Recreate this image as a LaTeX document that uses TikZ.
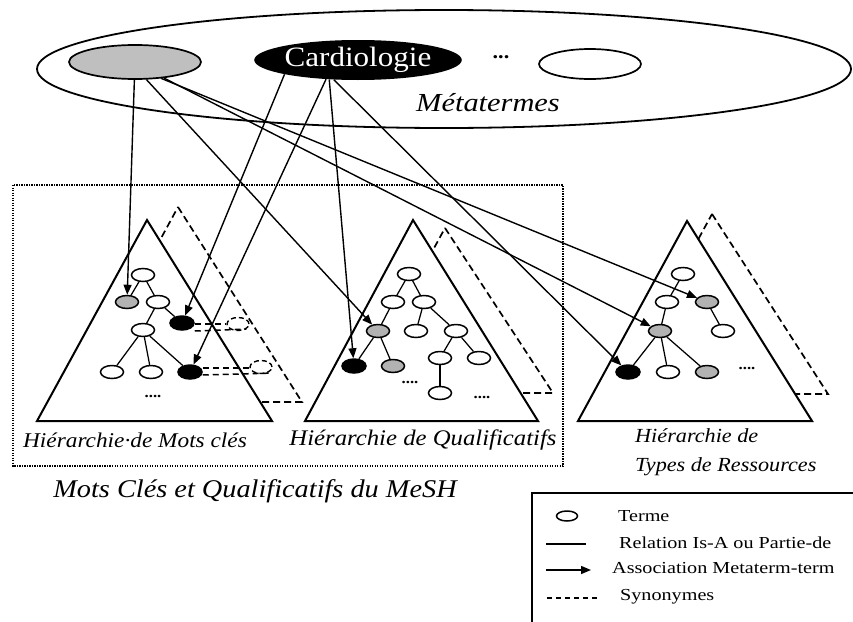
\documentclass[tikz,border=0pt]{standalone}
\usepackage{fontspec}
\setmainfont[FakeStretch=1.11]{Liberation Serif}
\newfontfamily\lgdfont[FakeStretch=1.2]{Liberation Serif}
\newfontfamily\metafont[FakeStretch=1.17]{Liberation Serif}
\usetikzlibrary{arrows.meta,shapes.geometric,calc}
\begin{document}
\begin{tikzpicture}[x=1pt,y=-1pt,
  term/.style={ellipse, draw, line width=1.5pt, fill=white, minimum width=23pt, minimum height=13pt, inner sep=0pt},
  gterm/.style={term, fill=black!30},
  bterm/.style={term, fill=black, minimum width=24pt, minimum height=14pt},
  synterm/.style={ellipse, draw, line width=1.4pt, dash pattern=on 5pt off 3pt, minimum width=22pt, minimum height=13pt, inner sep=0pt},
  syn/.style={line width=1.5pt, dash pattern=on 6pt off 4pt},
  rel/.style={line width=1.25pt},
  assoc/.style={line width=1.4pt, -{Triangle[length=10pt,width=8pt]}},
  tri/.style={draw, line width=2pt, fill=white},
  dtri/.style={draw, line width=1.7pt, fill=white, dash pattern=on 7pt off 4pt},
  lbl/.style={inner sep=0pt, font=\fontsize{21}{29}\selectfont\itshape},
  lgd/.style={inner sep=0pt, anchor=west, font=\lgdfont\fontsize{16.8}{18}\selectfont},
  ddots/.style={inner sep=0pt, font=\bfseries\fontsize{15}{15}\selectfont}
]
\useasboundingbox (0,0) rectangle (853,621);

% metaterms
\node[ellipse, draw, line width=1.8pt, minimum width=814pt, minimum height=118pt, inner sep=0pt] (meta) at (444,69) {};
\node[ellipse, draw, line width=1.7pt, fill=black!25, minimum width=132pt, minimum height=34pt, inner sep=0pt] (gm) at (135,62) {};
\node[ellipse, fill=black, text=white, minimum width=206pt, minimum height=40pt, inner sep=0pt, font=\fontsize{28}{28}\selectfont] (cm) at (358,60) {Cardiologie};
\node[ellipse, draw, line width=1.7pt, minimum width=102pt, minimum height=30pt, inner sep=0pt] (wm) at (590,64) {};
\node[inner sep=0pt, font=\bfseries\fontsize{20}{20}\selectfont] (mdots) at (501,57) {...};
\node[inner sep=0pt, font=\metafont\fontsize{26}{26}\selectfont\itshape] (metalbl) at (488,103) {Métatermes};

% MeSH frame
\draw[line width=1.5pt, dash pattern=on 1.3pt off 1.2pt] (13,185) rectangle (563,466);

% hierarchies
\path[dtri] (178,207) -- (302,402) -- (72,402) -- cycle;
\path[tri] (147,220) -- (272,421) -- (37,421) -- cycle;
\path[dtri] (445,228) -- (553,393) -- (355,393) -- cycle;
\path[tri] (413,220) -- (538,421) -- (305,421) -- cycle;
\path[dtri] (712,214) -- (828,394) -- (614,394) -- cycle;
\path[tri] (687,221) -- (812,421) -- (578,421) -- cycle;

% tree 1
\node[term]  (t1a)  at (143,275) {};
\node[gterm] (t1g)  at (127,302) {};
\node[term]  (t1c)  at (158,302) {};
\node[term]  (t1d)  at (143,330) {};
\node[bterm] (t1b1) at (182,323) {};
\node[term]  (t1e)  at (112,372) {};
\node[term]  (t1f)  at (151,372) {};
\node[bterm] (t1b2) at (190,372) {};
\node[ddots] (t1dots) at (153,396) {....};
\draw[rel] (t1a) -- (t1g);
\draw[rel] (t1a) -- (t1c);
\draw[rel] (t1c) -- (t1d);
\draw[rel] (t1c) -- (t1b1);
\draw[rel] (t1d) -- (t1e);
\draw[rel] (t1d) -- (t1f);
\draw[rel] (t1d) -- (t1b2);
\node[synterm] (s1) at (238,324) {};
\node[synterm] (s2) at (261,367) {};
\draw[syn] ($(t1b1.east)+(0,1)$) -- (s1.west);
\draw[syn] ($(t1b1.east)+(0,8)$) -- ($(s1.south east)+(0,0)$);
\draw[syn] ($(t1b2.east)+(0,-4)$) -- ($(s2.west)+(0,1)$);
\draw[syn] ($(t1b2.east)+(0,3)$) -- ($(s2.south east)+(2,1)$);

% tree 2
\node[term]  (t2a)  at (409,274) {};
\node[term]  (t2b)  at (393,302) {};
\node[term]  (t2c)  at (424,302) {};
\node[gterm] (t2g)  at (378,331) {};
\node[term]  (t2d)  at (416,331) {};
\node[term]  (t2e)  at (456,331) {};
\node[bterm] (t2k)  at (354,366) {};
\node[gterm] (t2g2) at (393,366) {};
\node[term]  (t2f)  at (440,358) {};
\node[term]  (t2h)  at (479,358) {};
\node[term]  (t2i)  at (440,393) {};
\node[ddots] (t2dots1) at (410,382) {....};
\node[ddots] (t2dots2) at (482,397) {....};
\draw[rel] (t2a) -- (t2b);
\draw[rel] (t2a) -- (t2c);
\draw[rel] (t2b) -- (t2g);
\draw[rel] (t2g) -- (t2k);
\draw[rel] (t2g) -- (t2g2);
\draw[rel] (t2c) -- (t2d);
\draw[rel] (t2c) -- (t2e);
\draw[rel] (t2e) -- (t2f);
\draw[rel] (t2e) -- (t2h);
\draw[rel] (t2f) -- (t2i);

% tree 3
\node[term]  (t3a)  at (683,274) {};
\node[term]  (t3c)  at (667,302) {};
\node[gterm] (t3g1) at (707,302) {};
\node[gterm] (t3g2) at (660,331) {};
\node[term]  (t3d)  at (723,331) {};
\node[bterm] (t3b)  at (628,372) {};
\node[term]  (t3e)  at (668,372) {};
\node[gterm] (t3g3) at (707,372) {};
\node[ddots] (t3dots) at (747,368) {....};
\draw[rel] (t3a) -- (t3c);
\draw[rel] (t3c) -- (t3g2);
\draw[rel] (t3g1) -- (t3d);
\draw[rel] (t3g2) -- (t3b);
\draw[rel] (t3g2) -- (t3e);
\draw[rel] (t3g2) -- (t3g3);

% associations metaterm -> term
\draw[assoc] (gm.-92) -- (t1g);
\draw[assoc] (gm.-57) -- (t2g);
\draw[assoc] (gm.-32) -- (t3g1);
\draw[assoc] (gm.-29) -- (t3g2);
\draw[assoc] (cm.-169) -- (t1b1);
\draw[assoc] (cm.-149) -- (t1b2);
\draw[assoc] (cm.-146) -- (t2k);
\draw[assoc] (cm.-141) -- (t3b);

% labels
\node[lbl] (l1) at (135,440) {Hiérarchie·de Mots clés};
\node[lbl, font=\fontsize{22.3}{29}\selectfont\itshape] (l2) at (423,440) {Hiérarchie de Qualificatifs};
\node[lbl, anchor=west, align=left, font=\fontsize{20}{29}\selectfont\itshape] (l3) at (635,452) {Hiérarchie de\\Types de Ressources};
\node[inner sep=0pt, font=\fontsize{25.5}{26}\selectfont\itshape] (l4) at (255,491) {Mots Clés et Qualificatifs du MeSH};

% legend
\draw[line width=1.7pt] (532,630) -- (532,493) -- (860,493);
\node[term, minimum width=21pt, minimum height=10pt] (lgterm) at (567,516) {};
\coordinate (lrA) at (546,544);
\coordinate (lrB) at (586,544);
\draw[rel, line width=1.3pt] (lrA) -- (lrB);
\coordinate (laA) at (546,570);
\coordinate (laB) at (591,570);
\draw[assoc, line width=1.5pt] (laA) -- (laB);
\coordinate (lsA) at (547,598);
\coordinate (lsB) at (597,598);
\draw[line width=1.3pt, dash pattern=on 5pt off 4pt] (lsA) -- (lsB);
\node[lgd] (lgt1) at (618,516) {Terme};
\node[lgd] (lgt2) at (619,543) {Relation Is-A ou Partie-de};
\node[lgd] (lgt3) at (612,568) {Association Metaterm-term};
\node[lgd] (lgt4) at (620,597) {Synonymes};
\end{tikzpicture}
\end{document}
